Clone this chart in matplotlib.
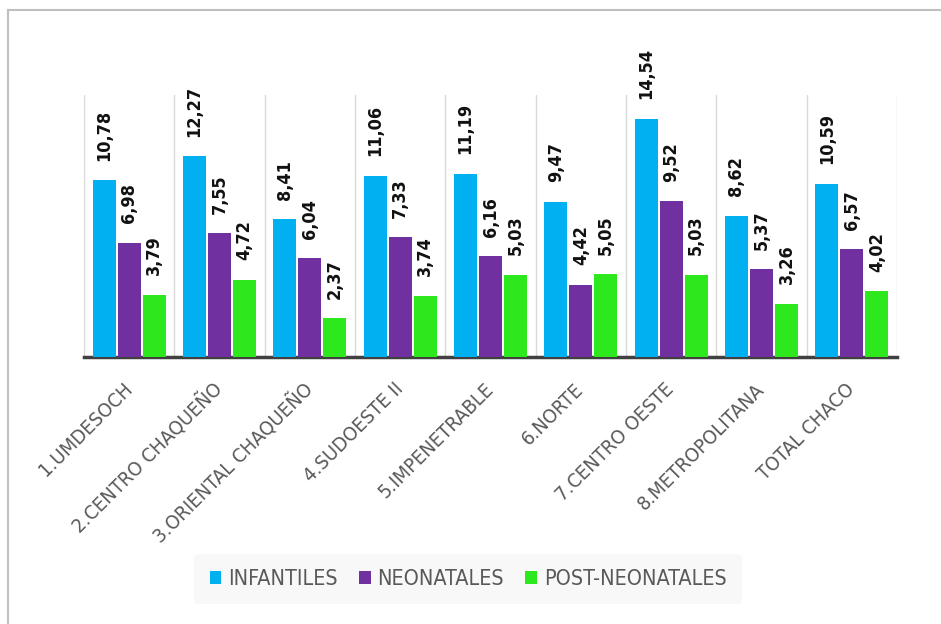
import matplotlib.pyplot as plt
import numpy as np

# Tasas de mortalidad por region sanitaria
regiones = ['1.UMDESOCH', '2.CENTRO CHAQUEÑO', '3.ORIENTAL CHAQUEÑO', '4.SUDOESTE II',
            '5.IMPENETRABLE', '6.NORTE', '7.CENTRO OESTE', '8.METROPOLITANA', 'TOTAL CHACO']
infantiles = [10.78, 12.27, 8.41, 11.06, 11.19, 9.47, 14.54, 8.62, 10.59]
neonatales = [6.98, 7.55, 6.04, 7.33, 6.16, 4.42, 9.52, 5.37, 6.57]
post_neonatales = [3.79, 4.72, 2.37, 3.74, 5.03, 5.05, 5.03, 3.26, 4.02]

series = ['INFANTILES', 'NEONATALES', 'POST-NEONATALES']
colores = ['#00B0F0', '#7030A0', '#2EE81E']

plt.rcParams['font.family'] = ['DejaVu Sans']
plt.rcParams['font.stretch'] = 'condensed'

fig = plt.figure(figsize=(9.41, 6.24), dpi=100)
ax = fig.add_axes([84 / 941, 1 - 357 / 624, (897 - 84) / 941, (357 - 95) / 624])

x = np.arange(len(regiones))
ancho = 0.255
paso = 0.277
for k, (nombre, vals, c) in enumerate(zip(series, [infantiles, neonatales, post_neonatales], colores)):
    barras = ax.bar(x + (k - 1) * paso, vals, ancho, color=c, label=nombre, zorder=3)
    for b, v in zip(barras, vals):
        ax.annotate(f'{v:.2f}'.replace('.', ','),
                    (b.get_x() + b.get_width() / 2, v),
                    xytext=(0, 14), textcoords='offset points',
                    rotation=90, ha='center', va='bottom',
                    fontsize=13, fontweight='bold', color='#111111')

ax.set_xlim(-0.5, len(regiones) - 0.5)
ax.set_ylim(0, 16)
ax.set_yticks([])

# lineas verticales entre regiones
for xv in np.arange(-0.5, len(regiones), 1.0):
    ax.axvline(xv, color='#d9d9d9', lw=1, zorder=1)

for s in ['top', 'right', 'left']:
    ax.spines[s].set_visible(False)
ax.spines['bottom'].set_color('#404040')
ax.spines['bottom'].set_linewidth(2.5)

ax.set_xticks(x)
ax.set_xticklabels(regiones, rotation=45, ha='right', va='center', rotation_mode='anchor',
                   fontsize=14.5, color='#595959')
ax.tick_params(axis='x', length=0, pad=21)

leg = fig.legend(loc='center', bbox_to_anchor=(468 / 941, 1 - 579 / 624), ncol=3,
                 frameon=True, fontsize=15.5, handlelength=0.55, handleheight=0.55,
                 handletextpad=0.3, columnspacing=1.0, borderpad=0.7)
leg.get_frame().set_facecolor('#f7f7f7')
leg.get_frame().set_edgecolor('none')
for t in leg.get_texts():
    t.set_color('#595959')

# borde del grafico
fig.add_artist(plt.Line2D([8 / 941, 8 / 941], [0, 1 - 10 / 624], color='#bfbfbf', lw=1.5))
fig.add_artist(plt.Line2D([8 / 941, 1], [1 - 10 / 624, 1 - 10 / 624], color='#bfbfbf', lw=1.5))

fig.savefig('out.png', dpi=100)
